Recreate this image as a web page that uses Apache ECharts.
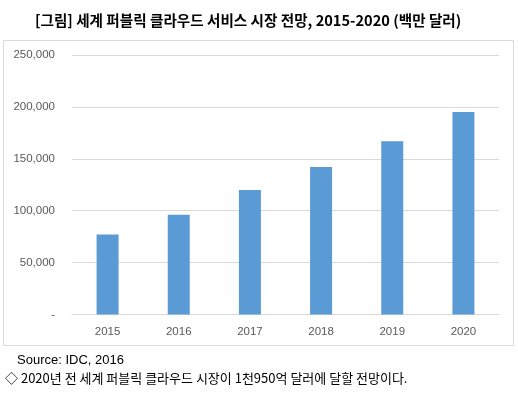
<!DOCTYPE html>
<html>
<head>
<meta charset="utf-8">
<script src="https://cdn.jsdelivr.net/npm/echarts@6/dist/echarts.min.js"></script>
<style>
html,body{margin:0;padding:0;background:#fff;}
#chart{width:518px;height:394px;}
</style>
</head>
<body>
<div id="chart"></div>
<script>
const categories = ['2015', '2016', '2017', '2018', '2019', '2020'];
const marketValues = [77000, 96000, 120000, 142000, 167000, 195000];
const yTicks = [0, 50000, 100000, 150000, 200000, 250000];
const titleText = '[그림] 세계 퍼블릭 클라우드 서비스 시장 전망, 2015-2020 (백만 달러)';
const sourceText = 'Source: IDC, 2016';
const noteText = '◇ 2020년 전 세계 퍼블릭 클라우드 시장이 1천950억 달러에 달할 전망이다.';

const chart = echarts.init(document.getElementById('chart'), null, {renderer: 'canvas'});
chart.setOption({
  animation: false,
  backgroundColor: '#fff',
  title: {
    text: titleText,
    left: 30,
    top: 8,
    textStyle: {fontFamily: 'Noto Sans CJK KR', fontSize: 14.6, fontWeight: 'bold', color: '#000'}
  },
  graphic: [
    {type: 'rect', shape: {x: 3.5, y: 40.5, width: 510, height: 305}, style: {fill: 'none', stroke: '#d9d9d9', lineWidth: 1}, z: -1},
    {type: 'text', left: 17, top: 354, style: {text: sourceText, font: '13px "Liberation Sans", Arial, sans-serif', fill: '#000'}},
    {type: 'text', left: 5, top: 372, style: {text: noteText, font: '13px "Noto Sans CJK KR", sans-serif', fill: '#000'}}
  ],
  grid: {left: 72, right: 19, top: 55, bottom: 79.5, containLabel: false},
  xAxis: {
    type: 'category',
    data: categories,
    axisLine: {show: true, lineStyle: {color: '#d9d9d9'}},
    axisTick: {show: false},
    axisLabel: {color: '#595959', fontSize: 11.5, fontFamily: 'Liberation Sans, Arial, sans-serif', margin: 11}
  },
  yAxis: {
    type: 'value',
    min: yTicks[0],
    max: yTicks[yTicks.length - 1],
    interval: yTicks[1] - yTicks[0],
    axisLine: {show: false},
    axisTick: {show: false},
    splitLine: {lineStyle: {color: '#d9d9d9'}},
    axisLabel: {
      color: '#595959', fontSize: 11.5, fontFamily: 'Liberation Sans, Arial, sans-serif', margin: 17,
      formatter: v => v === 0 ? '-' : v.toLocaleString('en-US')
    }
  },
  series: [{
    type: 'bar',
    data: marketValues,
    barWidth: 22,
    itemStyle: {color: '#5b9bd5'}
  }]
});
</script>
</body>
</html>
